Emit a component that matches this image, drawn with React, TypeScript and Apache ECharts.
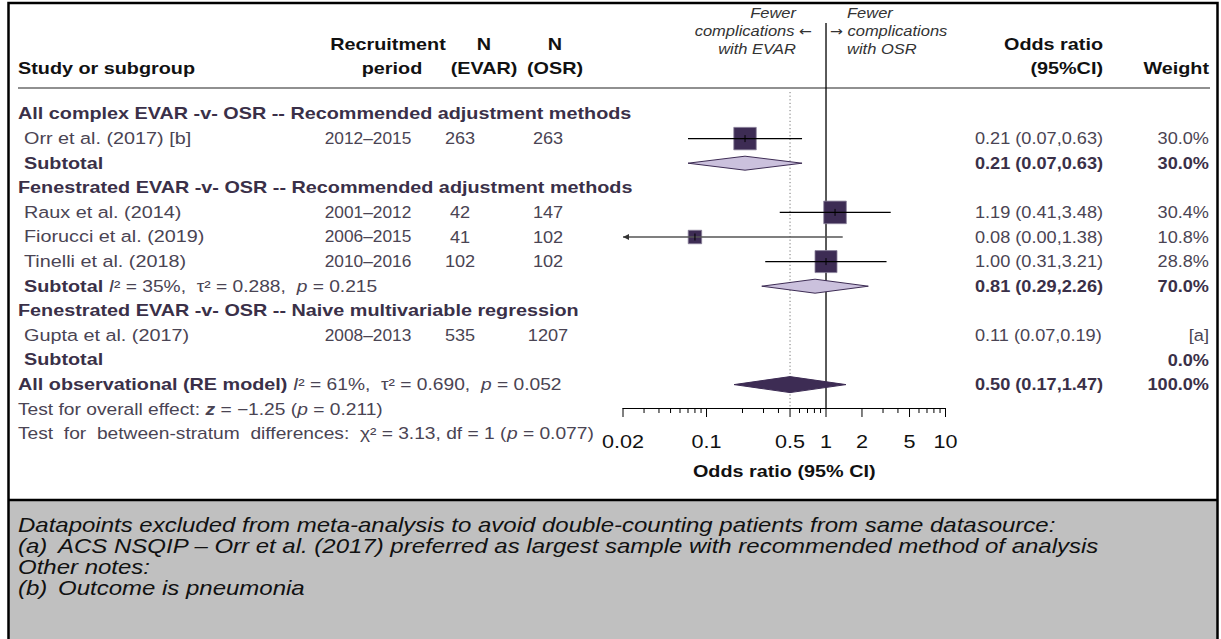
import React, { useEffect, useRef } from "react";
import * as echarts from "echarts";

const FF = "'Liberation Sans', Arial, Helvetica, sans-serif";

// ---------------- data ----------------
const groupTitles = [
  "All complex EVAR -v- OSR -- Recommended adjustment methods",
  "Fenestrated EVAR -v- OSR -- Recommended adjustment methods",
  "Fenestrated EVAR -v- OSR -- Naive multivariable regression",
];
const groupRows = [0, 3, 8];

const studyNames = [
  "Orr et al. (2017) [b]",
  "Raux et al. (2014)",
  "Fiorucci et al. (2019)",
  "Tinelli et al. (2018)",
  "Gupta et al. (2017)",
];
const studyRows = [1, 4, 5, 6, 9];
const studyPeriods = ["2012–2015", "2001–2012", "2006–2015", "2010–2016", "2008–2013"];
const studyNEvar = [263, 42, 41, 102, 535];
const studyNOsr = [263, 147, 102, 102, 1207];
const studyOR = [0.21, 1.19, 0.08, 1.0, 0.11];
const studyLo = [0.07, 0.41, 0.0, 0.31, 0.07];
const studyHi = [0.63, 3.48, 1.38, 3.21, 0.19];
const studyWeight: (number | null)[] = [30.0, 30.4, 10.8, 28.8, null];
const studyWeightNote = ["", "", "", "", "[a]"];

const subtotalRows = [2, 7, 10];
const subtotalEst: (number | null)[] = [0.21, 0.81, null];
const subtotalLo: (number | null)[] = [0.07, 0.29, null];
const subtotalHi: (number | null)[] = [0.63, 2.26, null];
const subtotalWeight = [30.0, 70.0, 0.0];
const subtotalI2: (number | null)[] = [null, 35, null];
const subtotalTau2: (string | null)[] = [null, "0.288", null];
const subtotalP: (string | null)[] = [null, "0.215", null];

const overallRow = 11;
const overallLabel = "All observational (RE model)";
const overallEst = 0.5;
const overallLo = 0.17;
const overallHi = 1.47;
const overallWeight = 100.0;
const overallI2 = 61;
const overallTau2 = "0.690";
const overallP = "0.052";
const overallZ = "−1.25";
const overallZp = "0.211";
const strataChi2 = "3.13";
const strataDf = 1;
const strataP = "0.077";

const majorTicks = [0.02, 0.1, 0.5, 1, 2, 5, 10];
const minorTicks = [0.03, 0.04, 0.05, 0.06, 0.07, 0.08, 0.09, 0.2, 0.3, 0.4, 0.6, 0.7, 0.8, 0.9, 3, 4, 6, 7, 8, 9];
const X_MIN = 0.02;
const X_MAX = 10;

const footerLines = [
  ["", "Datapoints excluded from meta-analysis to avoid double-counting patients from same datasource:"],
  ["(a)", "ACS NSQIP – Orr et al. (2017) preferred as largest sample with recommended method of analysis"],
  ["", "Other notes:"],
  ["(b)", "Outcome is pneumonia"],
];

// ---------------- layout / style ----------------
const W = 1221;
const H = 639;
const SX = 1.2;
const FS = 16.5;
const FS_S = 16;
const ROW0 = 114;
const ROW_H = 24.6;
const GRID_TOP = 88;
const AXIS_Y = 408;
const GRID_LEFT = 623;
const GRID_W = 322.5;
const Y_MIN = -(ROW0 - GRID_TOP) / ROW_H;
const Y_MAX = (AXIS_Y - ROW0) / ROW_H;
const rowY = (i: number) => ROW0 + ROW_H * i;

const C_DARK = "#3d2c54";
const C_LIGHT = "#cbc1dd";
const C_HEAD = "#111111";
const C_BOLD = "#3a3048";
const C_REG = "#4a4453";

const f2 = (v: number) => v.toFixed(2);
const ci = (e: number, l: number, h: number) => `${f2(e)} (${f2(l)},${f2(h)})`;
const pct = (v: number) => `${v.toFixed(1)}%`;

type TO = {
  size?: number;
  weight?: string;
  fstyle?: string;
  fill?: string;
  align?: string;
  rich?: any;
  sx?: number;
};
function txt(x: number, y: number, text: string, o: TO = {}) {
  const style: any = {
    text,
    x: 0,
    y: 0,
    fill: o.fill || C_REG,
    fontFamily: FF,
    fontSize: o.size || FS,
    align: o.align || "left",
    textAlign: o.align || "left",
    verticalAlign: "middle",
    textVerticalAlign: "middle",
  };
  if (o.weight) style.fontWeight = o.weight;
  if (o.fstyle) style.fontStyle = o.fstyle;
  if (o.rich) style.rich = o.rich;
  return { type: "text", x, y, scaleX: o.sx || SX, silent: true, style };
}

const rich = {
  b: { fontFamily: FF, fontSize: FS, fontWeight: "bold", fill: C_BOLD },
  s: { fontFamily: FF, fontSize: FS_S, fill: C_REG },
  si: { fontFamily: FF, fontSize: FS_S, fontStyle: "italic", fill: C_REG },
  sbi: { fontFamily: FF, fontSize: FS_S, fontStyle: "italic", fontWeight: "bold", fill: C_REG },
};
const het = (i2: number, tau2: string, p: string) =>
  `{si|I}{s|² = ${i2}%,  τ² = ${tau2},  }{si|p}{s| = ${p}}`;

const richArrow = {
  t: { fontFamily: FF, fontSize: 15, fontStyle: "italic", fill: "#333" },
  a: { fontFamily: "'DejaVu Sans', sans-serif", fontSize: 14, fill: "#333" },
};

const X_PERIOD = 368;
const X_NEVAR = 460;
const X_NOSR = 548;
const X_OR = 975;
const X_OR_HEAD = 1103;
const X_WEIGHT = 1209;
const X_GROUP = 18;
const X_STUDY = 24;

function buildGraphic() {
  const g: any[] = [];
  g.push({ type: "rect", silent: true, shape: { x: 8, y: 500, width: 1210, height: 160 }, style: { fill: "#c0c0c0" } });
  g.push({ type: "line", silent: true, shape: { x1: 8, y1: 500, x2: 1218, y2: 500 }, style: { stroke: "#000", lineWidth: 2.5 } });
  g.push({ type: "rect", silent: true, shape: { x: 8.5, y: 3, width: 1209, height: 700 }, style: { fill: "none", stroke: "#000", lineWidth: 2.5 } });
  g.push({ type: "line", silent: true, shape: { x1: 18, y1: 88, x2: 1210, y2: 88 }, style: { stroke: "#222", lineWidth: 1.2 } });

  const hb = { weight: "bold", fill: C_HEAD };
  g.push(txt(18, 69, "Study or subgroup", hb));
  g.push(txt(388, 45, "Recruitment", { ...hb, align: "center" }));
  g.push(txt(392, 69, "period", { ...hb, align: "center" }));
  g.push(txt(484, 45, "N", { ...hb, align: "center" }));
  g.push(txt(484, 69, "(EVAR)", { ...hb, align: "center" }));
  g.push(txt(555, 45, "N", { ...hb, align: "center" }));
  g.push(txt(555, 69, "(OSR)", { ...hb, align: "center" }));
  g.push(txt(X_OR_HEAD, 45, "Odds ratio", { ...hb, align: "right" }));
  g.push(txt(X_OR_HEAD, 69, "(95%CI)", { ...hb, align: "right" }));
  g.push(txt(X_WEIGHT, 69, "Weight", { ...hb, align: "right" }));
  const hi = { fstyle: "italic", fill: "#333", size: 15, sx: 1.1 };
  g.push(txt(796, 13, "Fewer", { ...hi, align: "right" }));
  g.push(txt(812, 31, "{t|complications }{a|←}", { ...hi, align: "right", rich: richArrow }));
  g.push(txt(796, 49, "with EVAR", { ...hi, align: "right" }));
  g.push(txt(847, 13, "Fewer", hi));
  g.push(txt(830, 31, "{a|→}{t| complications}", { ...hi, rich: richArrow }));
  g.push(txt(847, 49, "with OSR", hi));

  groupTitles.forEach((t, i) => g.push(txt(X_GROUP, rowY(groupRows[i]), t, { weight: "bold", fill: C_BOLD })));

  studyNames.forEach((n, i) => {
    const y = rowY(studyRows[i]);
    g.push(txt(X_STUDY, y, n));
    g.push(txt(X_PERIOD, y, studyPeriods[i], { align: "center", sx: 1.05 }));
    g.push(txt(X_NEVAR, y, String(studyNEvar[i]), { align: "center", sx: 1.1 }));
    g.push(txt(X_NOSR, y, String(studyNOsr[i]), { align: "center", sx: 1.1 }));
    g.push(txt(X_OR, y, ci(studyOR[i], studyLo[i], studyHi[i]), { sx: 1.1 }));
    const w = studyWeight[i];
    g.push(txt(X_WEIGHT, y, w == null ? studyWeightNote[i] : pct(w), { align: "right", sx: 1.1 }));
  });

  subtotalRows.forEach((r, i) => {
    const y = rowY(r);
    const i2 = subtotalI2[i];
    const label = i2 == null ? "{b|Subtotal}" : `{b|Subtotal} ${het(i2, subtotalTau2[i] as string, subtotalP[i] as string)}`;
    g.push(txt(X_STUDY, y, label, { rich }));
    const e = subtotalEst[i];
    if (e != null)
      g.push(txt(X_OR, y, ci(e, subtotalLo[i] as number, subtotalHi[i] as number), { weight: "bold", fill: C_BOLD, sx: 1.1 }));
    g.push(txt(X_WEIGHT, y, pct(subtotalWeight[i]), { align: "right", weight: "bold", fill: C_BOLD, sx: 1.1 }));
  });

  {
    const y = rowY(overallRow);
    g.push(txt(X_GROUP, y, `{b|${overallLabel}} ${het(overallI2, overallTau2, overallP)}`, { rich }));
    g.push(txt(X_OR, y, ci(overallEst, overallLo, overallHi), { weight: "bold", fill: C_BOLD, sx: 1.1 }));
    g.push(txt(X_WEIGHT, y, pct(overallWeight), { align: "right", weight: "bold", fill: C_BOLD, sx: 1.1 }));
    g.push(
      txt(X_GROUP, rowY(12), `{s|Test for overall effect: }{sbi|z}{s| = ${overallZ} (}{si|p}{s| = ${overallZp})}`, { rich })
    );
    g.push(
      txt(
        X_GROUP,
        rowY(13),
        `{s|Test  for  between-stratum  differences:  χ² = ${strataChi2}, df = ${strataDf} (}{si|p}{s| = ${strataP})}`,
        { rich }
      )
    );
  }

  g.push(txt(GRID_LEFT + GRID_W / 2, 472, "Odds ratio (95% CI)", { weight: "bold", fill: C_HEAD, align: "center", size: 16.5 }));

  footerLines.forEach((l, i) => {
    const y = 525 + 21 * i;
    const o = { fstyle: "italic", fill: "#111", size: 20 };
    if (l[0]) {
      g.push(txt(18, y, l[0], o));
      g.push(txt(58, y, l[1], o));
    } else g.push(txt(18, y, l[1], o));
  });
  return g;
}

export default function App() {
  const ref = useRef<HTMLDivElement>(null);
  useEffect(() => {
    if (!ref.current) return;
    const chart = echarts.init(ref.current, undefined, { renderer: "svg" });

    const studyData = studyNames
      .map((_, i) => (studyWeight[i] == null ? null : [studyOR[i], studyRows[i], studyLo[i], studyHi[i], studyWeight[i]]))
      .filter((d) => d != null);
    const diamondData: any[] = [];
    subtotalRows.forEach((r, i) => {
      if (subtotalEst[i] != null) diamondData.push([subtotalEst[i], r, subtotalLo[i], subtotalHi[i], 0]);
    });
    diamondData.push([overallEst, overallRow, overallLo, overallHi, 1]);
    const tickData = [...majorTicks.map((v) => [v, Y_MAX, 1]), ...minorTicks.map((v) => [v, Y_MAX, 0])];
    const refData = [
      [1, Y_MAX, 0],
      [overallEst, Y_MAX, 1],
    ];
    const SQ_K = 4.1;

    const option: any = {
      animation: false,
      backgroundColor: "#fff",
      grid: { left: GRID_LEFT, top: GRID_TOP, width: GRID_W, height: AXIS_Y - GRID_TOP, containLabel: false },
      xAxis: {
        type: "log",
        logBase: 10,
        min: X_MIN,
        max: X_MAX,
        axisLine: { show: true, onZero: false, lineStyle: { color: "#000", width: 1 } },
        axisTick: { show: false },
        axisLabel: { show: false },
        splitLine: { show: false },
        minorTick: { show: false },
      },
      yAxis: { type: "value", inverse: true, min: Y_MIN, max: Y_MAX, show: false },
      graphic: { elements: buildGraphic() },
      series: [
        {
          type: "custom",
          name: "ref",
          clip: false,
          silent: true,
          z: 1,
          data: refData,
          renderItem: (p: any, api: any) => {
            const v = api.value(0);
            const dotted = api.value(2) === 1;
            const x = api.coord([v, Y_MAX])[0];
            const yb = api.coord([v, Y_MAX])[1];
            return {
              type: "line",
              shape: { x1: x, y1: dotted ? 92 : 23, x2: x, y2: yb },
              style: dotted
                ? { stroke: "#777", lineWidth: 1, lineDash: [1.2, 2.4] }
                : { stroke: "#000", lineWidth: 1.3 },
            };
          },
        },
        {
          type: "custom",
          name: "studies",
          clip: false,
          silent: true,
          z: 3,
          data: studyData,
          renderItem: (p: any, api: any) => {
            const est = api.value(0);
            const row = api.value(1);
            const lo = api.value(2);
            const hi = api.value(3);
            const w = api.value(4);
            const [cx, cy] = api.coord([est, row]);
            const clipped = lo < X_MIN;
            const xl = api.coord([clipped ? X_MIN : lo, row])[0];
            const xh = api.coord([Math.min(hi, X_MAX), row])[0];
            const side = SQ_K * Math.sqrt(w);
            const children: any[] = [
              {
                type: "rect",
                shape: { x: cx - side / 2, y: cy - side / 2, width: side, height: side },
                style: { fill: C_DARK, stroke: "#8a819a", lineWidth: 0.8 },
              },
              {
                type: "line",
                shape: { x1: xl, y1: cy, x2: xh, y2: cy },
                style: { stroke: clipped ? "#555" : "#000", lineWidth: clipped ? 1.6 : 1.2 },
              },
              {
                type: "line",
                shape: { x1: cx, y1: cy - 3.5, x2: cx, y2: cy + 3.5 },
                style: { stroke: "#000", lineWidth: 1 },
              },
            ];
            if (clipped) {
              children.push({
                type: "polygon",
                shape: { points: [[xl, cy], [xl + 6, cy - 3], [xl + 6, cy + 3]] },
                style: { fill: "#333" },
              });
            }
            return { type: "group", children };
          },
        },
        {
          type: "custom",
          name: "diamonds",
          clip: false,
          silent: true,
          z: 3,
          data: diamondData,
          renderItem: (p: any, api: any) => {
            const est = api.value(0);
            const row = api.value(1);
            const lo = api.value(2);
            const hi = api.value(3);
            const overall = api.value(4) === 1;
            const [cx, cy] = api.coord([est, row]);
            const xl = api.coord([lo, row])[0];
            const xh = api.coord([hi, row])[0];
            const h = overall ? 8 : 7;
            return {
              type: "polygon",
              shape: { points: [[xl, cy], [cx, cy - h], [xh, cy], [cx, cy + h]] },
              style: overall
                ? { fill: C_DARK, stroke: C_DARK, lineWidth: 1 }
                : { fill: C_LIGHT, stroke: C_DARK, lineWidth: 1 },
            };
          },
        },
        {
          type: "custom",
          name: "ticks",
          clip: false,
          silent: true,
          z: 2,
          data: tickData,
          renderItem: (p: any, api: any) => {
            const v = api.value(0);
            const major = api.value(2) === 1;
            const [x, y] = api.coord([v, Y_MAX]);
            const children: any[] = [
              {
                type: "line",
                shape: { x1: x, y1: y, x2: x, y2: y + (major ? 9 : 5) },
                style: { stroke: "#000", lineWidth: 1 },
              },
            ];
            if (major) {
              children.push({
                type: "text",
                x,
                y: 442,
                scaleX: SX,
                style: {
                  text: String(v),
                  fill: "#111",
                  fontFamily: FF,
                  fontSize: 18,
                  align: "center",
                  textAlign: "center",
                  verticalAlign: "middle",
                  textVerticalAlign: "middle",
                },
              });
            }
            return { type: "group", children };
          },
        },
      ],
    };
    chart.setOption(option);
    return () => chart.dispose();
  }, []);
  return <div ref={ref} style={{ position: "fixed", left: 0, top: 0, width: W, height: H, background: "#fff" }} />;
}
